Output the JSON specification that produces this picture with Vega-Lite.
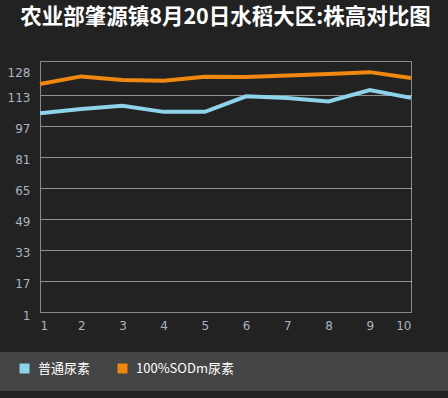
{
  "$schema": "https://vega.github.io/schema/vega-lite/v6.json",
  "autosize": "none",
  "width": 371,
  "height": 251,
  "padding": {"left": 40, "top": 61, "right": 37, "bottom": 86},
  "background": "#222222",
  "title": {
    "text": "农业部肇源镇8月20日水稻大区:株高对比图",
    "color": "#ffffff",
    "font": "Noto Sans CJK SC",
    "fontSize": 21.5,
    "fontWeight": "bold",
    "anchor": "middle",
    "offset": 33
  },
  "config": {
    "view": {"stroke": "#8a8a8a", "strokeWidth": 1},
    "axis": {
      "labelFont": "DejaVu Sans",
      "labelFontSize": 12,
      "labelColor": "#a9b4c0",
      "domainColor": "#8a8a8a",
      "ticks": false,
      "title": null
    }
  },
  "data": {
    "values": [
      {"x": 1, "series": "普通尿素", "v": 103.6},
      {"x": 2, "series": "普通尿素", "v": 105.8},
      {"x": 3, "series": "普通尿素", "v": 107.5},
      {"x": 4, "series": "普通尿素", "v": 104.3},
      {"x": 5, "series": "普通尿素", "v": 104.3},
      {"x": 6, "series": "普通尿素", "v": 112.3},
      {"x": 7, "series": "普通尿素", "v": 111.5},
      {"x": 8, "series": "普通尿素", "v": 109.7},
      {"x": 9, "series": "普通尿素", "v": 115.6},
      {"x": 10, "series": "普通尿素", "v": 111.5},
      {"x": 1, "series": "100%SODm尿素", "v": 118.7},
      {"x": 2, "series": "100%SODm尿素", "v": 122.6},
      {"x": 3, "series": "100%SODm尿素", "v": 120.7},
      {"x": 4, "series": "100%SODm尿素", "v": 120.4},
      {"x": 5, "series": "100%SODm尿素", "v": 122.4},
      {"x": 6, "series": "100%SODm尿素", "v": 122.3},
      {"x": 7, "series": "100%SODm尿素", "v": 123.1},
      {"x": 8, "series": "100%SODm尿素", "v": 123.8},
      {"x": 9, "series": "100%SODm尿素", "v": 124.8},
      {"x": 10, "series": "100%SODm尿素", "v": 121.8}
    ]
  },
  "mark": {"type": "line", "strokeWidth": 4},
  "encoding": {
    "x": {
      "field": "x",
      "type": "quantitative",
      "scale": {"domain": [1, 10], "nice": false, "zero": false},
      "axis": {
        "values": [1, 2, 3, 4, 5, 6, 7, 8, 9, 10],
        "grid": false,
        "labelFlush": true,
        "labelPadding": 8
      }
    },
    "y": {
      "field": "v",
      "type": "quantitative",
      "scale": {"domain": [1, 130.548], "nice": false, "zero": false},
      "axis": {
        "values": [1, 17, 33, 49, 65, 81, 97, 113, 128],
        "grid": true,
        "gridColor": "#ffffff",
        "gridDash": [1, 1],
        "gridWidth": 1,
        "gridOpacity": {"condition": {"test": "datum.value == 128 || datum.value == 1", "value": 0}, "value": 1},
        "labelOffset": {"condition": {"test": "datum.value == 128", "value": 7}, "value": 3},
        "labelPadding": 10
      }
    },
    "color": {
      "field": "series",
      "type": "nominal",
      "scale": {"domain": ["普通尿素", "100%SODm尿素"], "range": ["#8dd3ea", "#f0870f"]},
      "legend": {
        "title": " ",
        "orient": "none",
        "legendX": -40,
        "legendY": 291,
        "direction": "horizontal",
        "fillColor": "#444444",
        "padding": 10,
        "symbolType": "square",
        "symbolSize": 25,
        "symbolStrokeWidth": 5,
        "symbolOpacity": 1,
        "symbolOffset": 8,
        "labelOffset": 7,
        "columnPadding": 17,
        "labelFont": "Noto Sans CJK SC",
        "labelFontSize": 13,
        "labelColor": "#ffffff",
        "titleOrient": "right",
        "titlePadding": 232
      }
    }
  }
}
